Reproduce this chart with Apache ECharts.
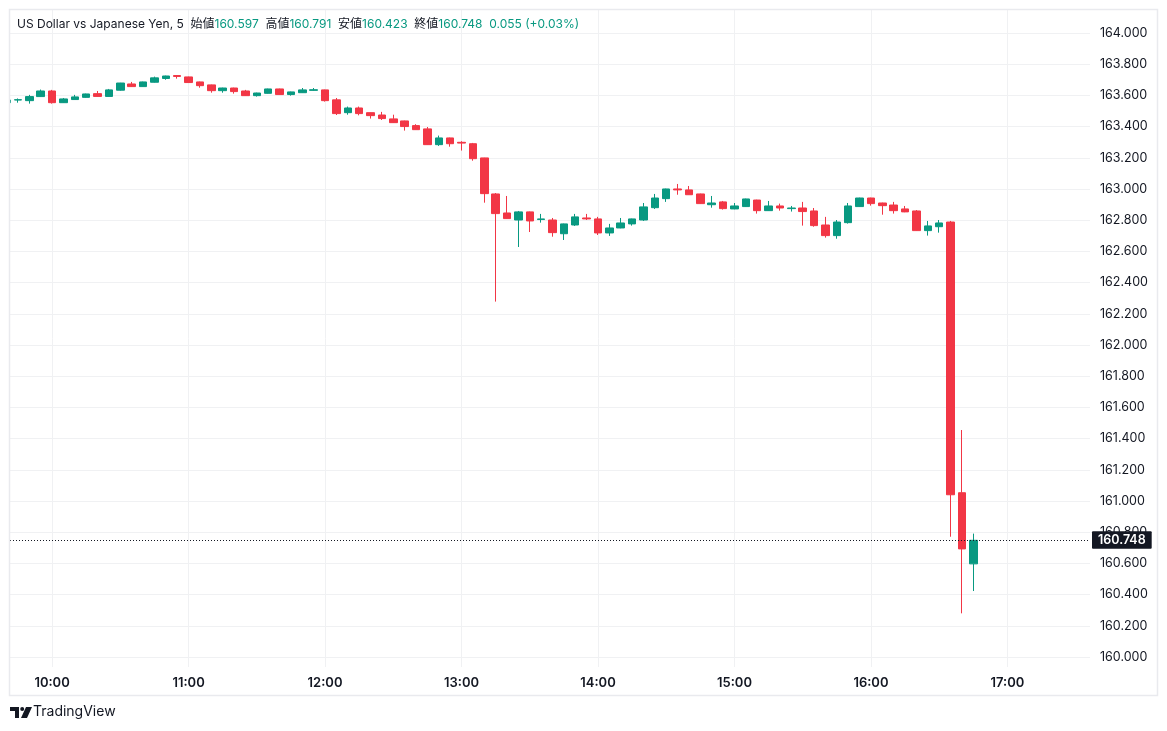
<!DOCTYPE html>
<html>
<head>
<meta charset="utf-8">
<script src="https://cdn.jsdelivr.net/npm/echarts@6/dist/echarts.min.js"></script>
<style>
html,body{margin:0;padding:0;background:#fff;}
#chart{width:1167px;height:731px;}
</style>
</head>
<body>
<div id="chart"></div>
<script>
// ---- data (5-minute candles, USD/JPY) ----
const times = [
 '09:40','09:45','09:50','09:55',
 '10:00','10:05','10:10','10:15','10:20','10:25','10:30','10:35','10:40','10:45','10:50','10:55',
 '11:00','11:05','11:10','11:15','11:20','11:25','11:30','11:35','11:40','11:45','11:50','11:55',
 '12:00','12:05','12:10','12:15','12:20','12:25','12:30','12:35','12:40','12:45','12:50','12:55',
 '13:00','13:05','13:10','13:15','13:20','13:25','13:30','13:35','13:40','13:45','13:50','13:55',
 '14:00','14:05','14:10','14:15','14:20','14:25','14:30','14:35','14:40','14:45','14:50','14:55',
 '15:00','15:05','15:10','15:15','15:20','15:25','15:30','15:35','15:40','15:45','15:50','15:55',
 '16:00','16:05','16:10','16:15','16:20','16:25','16:30','16:35','16:40','16:45'
];
const opens = [
 163.553,163.570,163.566,163.592,
 163.628,163.553,163.573,163.587,163.611,163.593,163.633,163.673,163.656,163.684,163.708,163.727,
 163.718,163.686,163.667,163.630,163.647,163.628,163.598,163.613,163.641,163.605,163.617,163.632,
 163.635,163.571,163.489,163.519,163.489,163.474,163.449,163.436,163.406,163.385,163.284,163.327,
 163.299,163.290,163.199,162.968,162.846,162.801,162.853,162.804,162.801,162.713,162.769,162.814,
 162.808,162.718,162.750,162.776,162.801,162.880,162.938,163.000,162.994,162.968,162.899,162.917,
 162.872,162.887,162.929,162.861,162.891,162.874,162.878,162.859,162.769,162.701,162.784,162.887,
 162.942,162.910,162.897,162.872,162.859,162.733,162.758,162.788,161.053,160.597
];
const closes = [
 163.570,163.572,163.592,163.628,
 163.553,163.577,163.590,163.609,163.593,163.635,163.679,163.656,163.686,163.712,163.724,163.721,
 163.682,163.662,163.630,163.647,163.624,163.598,163.615,163.641,163.605,163.622,163.635,163.636,
 163.566,163.483,163.519,163.483,163.470,163.451,163.425,163.400,163.380,163.284,163.327,163.290,
 163.294,163.194,162.970,162.842,162.810,162.853,162.795,162.808,162.720,162.776,162.821,162.808,
 162.718,162.750,162.782,162.808,162.885,162.942,163.000,162.994,162.963,162.906,162.910,162.874,
 162.891,162.936,162.861,162.891,162.878,162.878,162.855,162.765,162.701,162.788,162.891,162.942,
 162.906,162.893,162.861,162.853,162.733,162.763,162.782,161.040,160.693,160.748
];
const lows = [
 163.550,163.553,163.547,163.590,
 163.547,163.551,163.572,163.585,163.592,163.592,163.630,163.655,163.655,163.682,163.700,163.707,
 163.681,163.649,163.617,163.617,163.611,163.596,163.592,163.611,163.604,163.598,163.615,163.630,
 163.560,163.474,163.476,163.472,163.451,163.442,163.423,163.374,163.378,163.282,163.276,163.271,
 163.246,163.181,162.912,162.278,162.808,162.628,162.724,162.784,162.694,162.673,162.763,162.801,
 162.705,162.699,162.748,162.765,162.795,162.872,162.917,162.963,162.962,162.904,162.880,162.868,
 162.870,162.885,162.842,162.859,162.861,162.855,162.765,162.758,162.688,162.681,162.778,162.885,
 162.893,162.835,162.842,162.851,162.731,162.701,162.720,160.771,160.280,160.423
];
const highs = [
 163.575,163.580,163.603,163.637,
 163.635,163.583,163.603,163.611,163.628,163.641,163.680,163.686,163.688,163.720,163.726,163.729,
 163.720,163.688,163.669,163.649,163.649,163.635,163.617,163.643,163.643,163.624,163.647,163.647,
 163.637,163.583,163.528,163.528,163.490,163.494,163.476,163.438,163.415,163.397,163.342,163.329,
 163.306,163.295,163.200,162.974,162.955,162.859,162.855,162.840,162.814,162.778,162.840,162.840,
 162.821,162.776,162.814,162.810,162.910,162.968,163.002,163.032,163.019,162.970,162.955,162.923,
 162.910,162.938,162.931,162.923,162.906,162.891,162.917,162.878,162.821,162.801,162.910,162.944,
 162.944,162.912,162.917,162.891,162.865,162.795,162.801,162.795,161.455,160.791
];
const priceTicks = [160.0,160.2,160.4,160.6,160.8,161.0,161.2,161.4,161.6,161.8,162.0,162.2,162.4,162.6,162.8,163.0,163.2,163.4,163.6,163.8,164.0];
const timeTickLabels = ['10:00','11:00','12:00','13:00','14:00','15:00','16:00','17:00'];
const lastPrice = 160.748;
const header = {
  name: 'US Dollar vs Japanese Yen, 5',
  open: '160.597', high: '160.791', low: '160.423', close: '160.748',
  change: '0.055 (+0.03%)'
};

// ---- helpers ----
const toMin = s => { const p = s.split(':'); return (+p[0]) * 60 + (+p[1]) - 600; };
const fromMin = m => { const t = m + 600; const h = Math.floor(t / 60), mm = t % 60; return (h < 10 ? '0' : '') + h + ':' + (mm < 10 ? '0' : '') + mm; };
const candleData = times.map((t, i) => [toMin(t), opens[i], closes[i], lows[i], highs[i]]);
const timeTicks = timeTickLabels.map(toMin);

const UP = '#089981', DOWN = '#F23645', TXT = '#131722', GRID = '#f0f1f3';
const FONT = "Inter, 'Noto Sans CJK JP', sans-serif";

const chart = echarts.init(document.getElementById('chart'), null, {renderer: 'canvas'});
chart.setOption({
  animation: false,
  backgroundColor: '#ffffff',
  textStyle: {fontFamily: FONT},
  title: {
    left: 17, top: 18, padding: 0,
    text: header.name + '  始値{v|' + header.open + '}  高値{v|' + header.high + '}  安値{v|' + header.low + '}  終値{v|' + header.close + '}  {v|' + header.change + '}',
    textStyle: {
      fontFamily: FONT, fontSize: 12, fontWeight: 'normal', color: TXT,
      rich: {v: {fontFamily: FONT, fontSize: 12, color: UP}}
    }
  },
  grid: {left: 10, right: 77, top: 10, bottom: 64},
  xAxis: {
    type: 'value',
    min: -18.5, max: 456.3,
    axisLine: {show: false},
    axisTick: {show: false, customValues: timeTicks},
    axisLabel: {
      customValues: timeTicks,
      formatter: v => fromMin(v),
      color: TXT, fontSize: 13, fontWeight: 600, margin: 10, fontFamily: FONT
    },
    splitLine: {show: true, lineStyle: {color: GRID, width: 1}}
  },
  yAxis: {
    type: 'value',
    position: 'right',
    min: 159.936, max: 164.147,
    scale: true,
    axisLine: {show: false},
    axisTick: {show: false, customValues: priceTicks},
    axisLabel: {
      customValues: priceTicks,
      formatter: v => v.toFixed(3),
      color: TXT, fontSize: 12.5, margin: 10, align: 'left', fontFamily: FONT
    },
    splitLine: {show: true, lineStyle: {color: GRID, width: 1}}
  },
  series: [{
    type: 'candlestick',
    data: candleData,
    encode: {x: 0, y: [1, 2, 3, 4]},
    clip: true,
    barWidth: 8,
    itemStyle: {
      color: UP, color0: DOWN, borderColor: UP, borderColor0: DOWN, borderWidth: 1
    },
    markLine: {
      silent: true,
      symbol: 'none',
      lineStyle: {type: [1, 2], color: TXT, width: 1},
      label: {
        show: true, position: 'end', distance: 2,
        formatter: () => lastPrice.toFixed(3),
        backgroundColor: TXT, color: '#ffffff', padding: [3, 6, 2, 6],
        fontSize: 12.5, fontWeight: 600, fontFamily: FONT, borderRadius: 1
      },
      data: [{yAxis: lastPrice}]
    }
  }],
  graphic: [
    {type: 'rect', shape: {x: 0, y: 0, width: 9.5, height: 700}, style: {fill: '#ffffff'}, silent: true, z: 99},
    {type: 'rect', shape: {x: 9.5, y: 9.5, width: 1148, height: 686}, style: {fill: 'none', stroke: '#e9eaee', lineWidth: 1.5}, silent: true, z: 100},
    {type: 'group', left: 10, top: 707, children: [
      {type: 'rect', shape: {x: 0, y: 0, width: 9, height: 4}, style: {fill: TXT}},
      {type: 'rect', shape: {x: 5, y: 0, width: 4, height: 11}, style: {fill: TXT}},
      {type: 'circle', shape: {cx: 12.2, cy: 2, r: 2}, style: {fill: TXT}},
      {type: 'polygon', shape: {points: [[16, 0], [22, 0], [17, 11], [11, 11]]}, style: {fill: TXT}}
    ]},
    {type: 'text', left: 33, top: 705, style: {text: 'TradingView', fill: TXT, fontSize: 14, fontFamily: FONT}}
  ]
});
</script>
</body>
</html>
